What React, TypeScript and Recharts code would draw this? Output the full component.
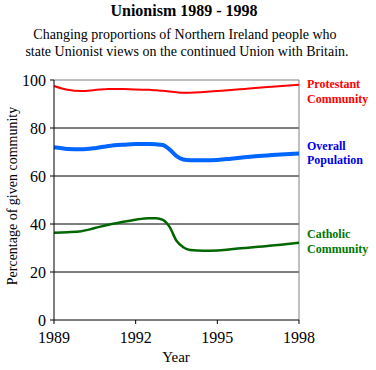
import { LineChart, Line, XAxis, YAxis, ReferenceLine } from "recharts";

const years = [
  1989, 1989.5, 1990, 1990.5, 1991, 1991.5, 1992, 1992.5, 1992.75, 1993, 1993.25, 1993.5, 1993.75,
  1994, 1994.5, 1995, 1995.5, 1996, 1996.5, 1997, 1997.5, 1998,
];
const protestant = [
  97.5, 95.9, 95.4, 95.8, 96.3, 96.3, 96.0, 95.9, 95.7, 95.5, 95.2, 94.9, 94.7,
  94.7, 95.0, 95.4, 95.8, 96.3, 96.8, 97.2, 97.6, 98.0,
];
const overall = [
  72.0, 71.3, 71.1, 71.6, 72.5, 73.0, 73.3, 73.3, 73.2, 72.9, 71.0, 68.3, 66.9,
  66.6, 66.6, 66.7, 67.2, 67.8, 68.3, 68.7, 69.1, 69.4,
];
const catholic = [
  36.4, 36.6, 37.0, 38.3, 39.7, 40.8, 41.8, 42.4, 42.4, 41.7, 38.7, 33.0, 30.3,
  29.2, 28.9, 29.0, 29.5, 30.0, 30.5, 31.0, 31.6, 32.2,
];

const yearTicks = [1989, 1992, 1995, 1998];
const percentTicks = [0, 20, 40, 60, 80, 100];
const gridValues = [20, 40, 60, 80];

const data = years.map((y, i) => ({
  year: y,
  protestant: protestant[i],
  overall: overall[i],
  catholic: catholic[i],
}));

const serif = '"Liberation Serif", "Times New Roman", "DejaVu Serif", serif';
const txt = { fontFamily: serif };

export default function App() {
  return (
    <div style={{ position: "absolute", left: 0, top: 0, width: 376, height: 370, background: "#fff", fontFamily: serif }}>
      <LineChart width={376} height={370} data={data} margin={{ top: 80, right: 77, left: 0, bottom: 0 }} style={txt}>
        {gridValues.map((v) => (
          <ReferenceLine key={v} y={v} stroke="#000" strokeWidth={1} />
        ))}
        <ReferenceLine y={100} stroke="#808080" strokeWidth={1} />
        <ReferenceLine x={1998} stroke="#808080" strokeWidth={1} />
        <XAxis
          dataKey="year"
          type="number"
          domain={[1989, 1998]}
          ticks={yearTicks}
          stroke="#000"
          tickSize={4}
          tickMargin={8}
          height={50}
          tick={{ fill: "#000", fontSize: 16, style: txt }}
        />
        <YAxis
          type="number"
          domain={[0, 100]}
          ticks={percentTicks}
          stroke="#000"
          tickSize={4}
          tickMargin={4}
          width={54}
          tick={{ fill: "#000", fontSize: 16, style: txt }}
        />
        <Line type="monotone" dataKey="protestant" stroke="#ff0000" strokeWidth={2} dot={false} isAnimationActive={false} />
        <Line type="monotone" dataKey="overall" stroke="#0066ff" strokeWidth={4} dot={false} isAnimationActive={false} />
        <Line type="monotone" dataKey="catholic" stroke="#006600" strokeWidth={2.5} dot={false} isAnimationActive={false} />
      </LineChart>
      <svg width={376} height={370} style={{ position: "absolute", left: 0, top: 0, pointerEvents: "none" }}>
        <text x={184} y={16} textAnchor="middle" fontSize={16} fontWeight="bold" style={txt}>Unionism 1989 - 1998</text>
        <text x={185} y={39} textAnchor="middle" fontSize={14} style={txt}>Changing proportions of Northern Ireland people who</text>
        <text x={187} y={56} textAnchor="middle" fontSize={14} style={txt}>state Unionist views on the continued Union with Britain.</text>
        <text x={176} y={362} textAnchor="middle" fontSize={15} style={txt}>Year</text>
        <text x={17} y={196} textAnchor="middle" fontSize={14} transform="rotate(-90 17 196)" style={txt}>Percentage of given community</text>
        <g fontSize={12} fontWeight="bold">
          <text x={307} y={88} fill="#ff0000" style={txt}>Protestant</text>
          <text x={307} y={103} fill="#ff0000" style={txt}>Community</text>
          <text x={307} y={150} fill="#0000ee" style={txt}>Overall</text>
          <text x={307} y={164} fill="#0000ee" style={txt}>Population</text>
          <text x={307} y={238} fill="#007700" style={txt}>Catholic</text>
          <text x={307} y={253} fill="#007700" style={txt}>Community</text>
        </g>
      </svg>
    </div>
  );
}
